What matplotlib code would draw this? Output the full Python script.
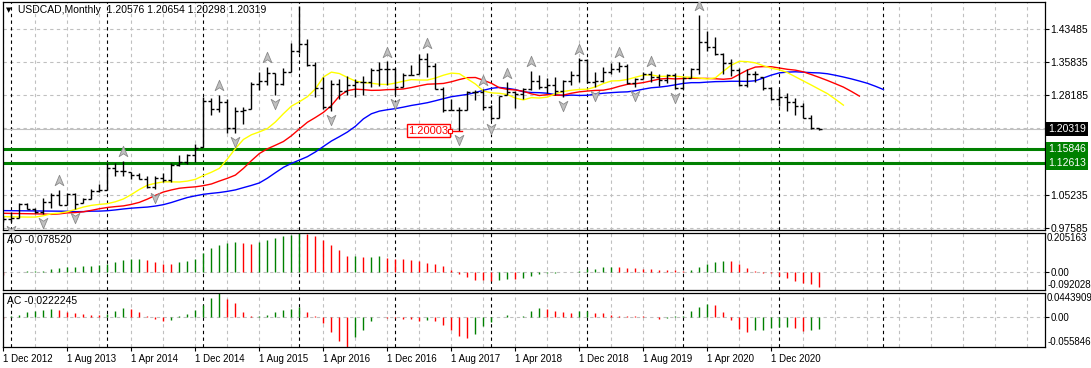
import numpy as np
import matplotlib
matplotlib.use("Agg")
import matplotlib.pyplot as plt
from matplotlib.path import Path
from matplotlib.transforms import ScaledTranslation, blended_transform_factory

plt.rcParams['font.family'] = ['Liberation Sans', 'DejaVu Sans']
plt.rcParams['font.size'] = 7

# --- USDCAD monthly, bar 0 = Dec 2012 ... bar 102 = Jun 2021 ---
highs = [1.0020, 1.0131, 1.0339, 1.0339, 1.0208, 1.0439, 1.0570, 1.0632, 1.0570, 1.0570,
         1.0439, 1.0655, 1.0763, 1.1249, 1.1265, 1.1303, 1.1056, 1.1018, 1.0956, 1.0956,
         1.1018, 1.1249, 1.1441, 1.1464, 1.1696, 1.2791, 1.2752, 1.2830, 1.2729, 1.2544,
         1.2544, 1.3138, 1.3369, 1.3485, 1.3331, 1.3446, 1.4025, 1.4890, 1.4117, 1.3600,
         1.3253, 1.3176, 1.3191, 1.3268, 1.3191, 1.3268, 1.3446, 1.3600, 1.3610, 1.3446,
         1.3331, 1.3523, 1.3778, 1.3809, 1.3562, 1.3007, 1.2729, 1.2544, 1.2930, 1.2945,
         1.2960, 1.2598, 1.2806, 1.3125, 1.2910, 1.3000, 1.3385, 1.3290, 1.3230, 1.3238,
         1.3175, 1.3393, 1.3677, 1.3665, 1.3369, 1.3469, 1.3562, 1.3600, 1.3546, 1.3215,
         1.3369, 1.3392, 1.3315, 1.3315, 1.3331, 1.3253, 1.3446, 1.4680, 1.4318, 1.4163,
         1.3809, 1.3654, 1.3446, 1.3423, 1.3392, 1.3238, 1.3007, 1.2960, 1.2883, 1.2752,
         1.2652, 1.2367, 1.20654]
lows = [0.9900, 0.9880, 0.9977, 1.0185, 1.0100, 1.0080, 1.0208, 1.0285, 1.0290, 1.0200,
        1.0323, 1.0416, 1.0594, 1.0632, 1.0956, 1.0956, 1.0879, 1.0879, 1.0680, 1.0650,
        1.0825, 1.0825, 1.1186, 1.1233, 1.1288, 1.1634, 1.2367, 1.2444, 1.1958, 1.1943,
        1.2159, 1.2498, 1.2945, 1.3061, 1.2830, 1.3061, 1.3369, 1.3793, 1.3500, 1.2791,
        1.2500, 1.2460, 1.2729, 1.2830, 1.2775, 1.2830, 1.3022, 1.3038, 1.3061, 1.2830,
        1.3007, 1.3292, 1.3315, 1.3253, 1.2960, 1.2444, 1.2482, 1.2000, 1.2482, 1.2714,
        1.2482, 1.2250, 1.2300, 1.2830, 1.2530, 1.2730, 1.2940, 1.2960, 1.2870, 1.2828,
        1.2789, 1.3060, 1.3138, 1.3115, 1.3007, 1.3138, 1.3315, 1.3369, 1.3084, 1.3022,
        1.3191, 1.3138, 1.3038, 1.3115, 1.2960, 1.2970, 1.3215, 1.3315, 1.3855, 1.3754,
        1.3315, 1.3269, 1.3038, 1.3007, 1.3138, 1.2945, 1.2714, 1.2574, 1.2466, 1.2367,
        1.2289, 1.2050, 1.20298]
closes = [0.9950, 0.9975, 1.0300, 1.0190, 1.0110, 1.0360, 1.0520, 1.0290, 1.0530, 1.0310,
          1.0430, 1.0610, 1.0630, 1.1130, 1.1080, 1.1060, 1.0970, 1.0890, 1.0690, 1.0900,
          1.0870, 1.1200, 1.1270, 1.1430, 1.1600, 1.2700, 1.2500, 1.2660, 1.2070, 1.2450,
          1.2490, 1.3080, 1.3150, 1.3330, 1.3080, 1.3360, 1.3840, 1.4010, 1.3530, 1.2990,
          1.2550, 1.3090, 1.2920, 1.3060, 1.3130, 1.3120, 1.3410, 1.3430, 1.3430, 1.3020,
          1.3280, 1.3300, 1.3650, 1.3500, 1.2970, 1.2470, 1.2490, 1.2480, 1.2890, 1.2900,
          1.2560, 1.2300, 1.2800, 1.2890, 1.2840, 1.2960, 1.3150, 1.3010, 1.3050, 1.2910,
          1.3150, 1.3280, 1.3640, 1.3140, 1.3160, 1.3350, 1.3430, 1.3510, 1.3100, 1.3190,
          1.3310, 1.3240, 1.3170, 1.3290, 1.2990, 1.3230, 1.3420, 1.4060, 1.3930, 1.3780,
          1.3570, 1.3400, 1.3050, 1.3310, 1.3320, 1.3000, 1.2730, 1.2790, 1.2670, 1.2570,
          1.2290, 1.20576, 1.20319]
first_open = 0.9960

# fractal bars
up_fractals = [7, 15, 27, 33, 37, 48, 53, 60, 63, 66, 72, 77, 81, 87]
down_fractals = [1, 5, 9, 19, 29, 34, 41, 49, 57, 61, 70, 74, 79, 84]

# alligator start values at the left edge (jaw, teeth, lips)
alligator_seed = [1.0153, 1.0091, 1.0014]

ao_values = [-0.012, 0.002, 0.004, 0.005, 0.006, 0.008, 0.017, 0.022, 0.029, 0.030,
             0.034, 0.035, 0.039, 0.046, 0.056, 0.063, 0.068, 0.069, 0.063, 0.056,
             0.046, 0.045, 0.056, 0.060, 0.068, 0.100, 0.128, 0.145, 0.152, 0.158,
             0.155, 0.150, 0.158, 0.170, 0.180, 0.188, 0.196, 0.2051, 0.200, 0.190,
             0.170, 0.145, 0.115, 0.085, 0.086, 0.080, 0.082, 0.084, 0.073, 0.068,
             0.067, 0.063, 0.060, 0.051, 0.046, 0.034, 0.012, -0.009, -0.026, -0.038,
             -0.039, -0.043, -0.038, -0.034, -0.035, -0.031, -0.017, -0.009, -0.003, -0.001,
             0.0005, 0.003, 0.009, 0.017, 0.020, 0.026, 0.029, 0.026, 0.022, 0.021,
             0.020, 0.017, 0.012, 0.011, 0.010, 0.008, 0.012, 0.026, 0.043, 0.056,
             0.060, 0.059, 0.043, 0.022, 0.005, -0.001, -0.005, -0.017, -0.029, -0.043,
             -0.055, -0.063, -0.0785]
ac_values = [-0.004, 0.001, 0.004, 0.009, 0.011, 0.012, 0.014, 0.012, 0.009, 0.007,
             0.006, 0.004, 0.003, 0.005, 0.011, 0.016, 0.015, 0.009, 0.002, -0.004,
             -0.008, -0.006, 0.001, 0.006, 0.012, 0.023, 0.036, 0.0443, 0.034, 0.026,
             0.009, 0.001, 0.0015, 0.004, 0.009, 0.013, 0.015, 0.019, 0.009, 0.002,
             -0.012, -0.028, -0.045, -0.0558, -0.038, -0.024, -0.008, -0.001, -0.0015, -0.002,
             -0.003, -0.004, -0.008, -0.006, -0.008, -0.015, -0.025, -0.036, -0.040, -0.032,
             -0.017, -0.009, -0.0005, 0.004, 0.0005, 0.002, 0.011, 0.017, 0.014, 0.011,
             0.009, 0.007, 0.0105, 0.011, 0.007, 0.0068, 0.003, 0.002, 0.0015, 0.001,
             0.0008, -0.0005, -0.004, -0.002, 0.001, 0.0015, 0.011, 0.019, 0.024, 0.022,
             0.009, -0.006, -0.022, -0.028, -0.025, -0.024, -0.020, -0.019, -0.018, -0.020,
             -0.026, -0.024, -0.0222]

price_grid = [1.43485, 1.35835, 1.28185, 1.20535, 1.12885, 1.05235, 0.97585]
price_labels = ['1.43485', '1.35835', '1.28185', '', '', '1.05235', '0.97585']
green_levels = [1.15846, 1.12613]
bid_price = 1.20319
low_mark = 1.20003

date_ticks = [0, 8, 16, 24, 32, 40, 48, 56, 64, 72, 80, 88, 96]
date_labels = ['1 Dec 2012', '1 Aug 2013', '1 Apr 2014', '1 Dec 2014', '1 Aug 2015',
               '1 Apr 2016', '1 Dec 2016', '1 Aug 2017', '1 Apr 2018', '1 Dec 2018',
               '1 Aug 2019', '1 Apr 2020', '1 Dec 2020']
year_seps = [1, 13, 25, 37, 49, 61, 73, 85, 97, 110]

# --- derived series ---
highs = np.array(highs)
lows = np.array(lows)
closes = np.array(closes)
idx = np.arange(len(closes))
opens = np.clip(np.r_[first_open, closes[:-1]], lows, highs)
median = (highs + lows) / 2


def smma(values, n, seed):
    out = []
    prev = seed
    for v in values:
        prev = (prev * (n - 1) + v) / n
        out.append(prev)
    return np.array(out)


W, H = 1091, 368
fig = plt.figure(figsize=(W / 100, H / 100), dpi=100)


def box(l, t, r, b):
    return [l / W, 1 - b / H, (r - l) / W, (b - t) / H]


ax = fig.add_axes(box(3, 2, 1045, 230))
ax_ao = fig.add_axes(box(3, 233, 1045, 290), sharex=ax)
ax_ac = fig.add_axes(box(3, 293, 1045, 347), sharex=ax)

grid_kw = dict(color='#c0c0c0', lw=0.8, ls=(0, (3, 3)), zorder=0)
sep_kw = dict(color='black', lw=0.8, ls=(0, (3, 3)), zorder=0.5)

for a in (ax, ax_ao, ax_ac):
    for i in range(0, 131, 4):
        a.axvline(i, **grid_kw)
    for i in year_seps:
        a.axvline(i, **sep_kw)
    for s in a.spines.values():
        s.set_color('black')
        s.set_linewidth(0.9)
    a.yaxis.tick_right()
    a.tick_params(axis='y', length=3, pad=1, colors='black', labelsize=7)
    a.tick_params(axis='x', length=0, labelbottom=False)

ax.set_xlim(-0.05, 130.2)

# --- main price panel ---
for p in price_grid:
    ax.axhline(p, **grid_kw)
ax.axhline(bid_price, color='#c0c0c0', lw=0.8, zorder=0.6)
for p in green_levels:
    ax.axhline(p, color='#008000', lw=2.2, zorder=1)

# alligator: jaw (blue), teeth (red), lips (yellow)
for period, shift, seed, col in [(13, 8, alligator_seed[0], '#0000ff'),
                                 (8, 5, alligator_seed[1], '#ff0000'),
                                 (5, 3, alligator_seed[2], '#ffff00')]:
    line = smma(median, period, seed)
    ax.plot(np.r_[0, idx + shift], np.r_[seed, line], color=col, lw=1.0, zorder=2)

ax.vlines(idx, lows, highs, color='black', lw=1.0, zorder=3)
ax.hlines(opens, idx - 0.38, idx, color='black', lw=1.0, zorder=3)
ax.hlines(closes, idx, idx + 0.38, color='black', lw=1.0, zorder=3)

arrow_up = Path([(0, 0.5), (0.42, -0.5), (0, -0.22), (-0.42, -0.5), (0, 0.5)],
                [Path.MOVETO, Path.LINETO, Path.LINETO, Path.LINETO, Path.CLOSEPOLY])
arrow_dn = Path([(0, -0.5), (0.42, 0.5), (0, 0.22), (-0.42, 0.5), (0, -0.5)],
                [Path.MOVETO, Path.LINETO, Path.LINETO, Path.LINETO, Path.CLOSEPOLY])
up_tr = ax.transData + ScaledTranslation(0, 0.095, fig.dpi_scale_trans)
dn_tr = ax.transData + ScaledTranslation(0, -0.09, fig.dpi_scale_trans)
ax.plot(up_fractals, highs[up_fractals], ls='none', marker=arrow_up, ms=7.5,
        mfc='#c0c0c0', mec='#8a8a8a', mew=0.6, transform=up_tr, zorder=4)
ax.plot(down_fractals, lows[down_fractals], ls='none', marker=arrow_dn, ms=7.5,
        mfc='#c0c0c0', mec='#8a8a8a', mew=0.6, transform=dn_tr, zorder=4)

ax.set_ylim(0.97043, 1.49802)
ax.set_yticks(price_grid)
ax.set_yticklabels(price_labels)
ax.tick_params(axis='y', labelsize=7.5)

# low price label
ax.text(53.1, low_mark, '1.20003', color='red', ha='center', va='center', fontsize=8,
        bbox=dict(facecolor='white', edgecolor='red', lw=1, pad=1.0), zorder=5)
ax.plot([55.75, 57.3], [low_mark, low_mark], color='red', lw=1, zorder=5)
ax.plot([55.8], [low_mark], marker='s', ms=2.5, mfc='white', mec='red', mew=0.8, zorder=5)

tr = blended_transform_factory(fig.transFigure, ax.transData)
ax.text(1048 / W, bid_price, '1.20319', color='white', va='center', ha='left', transform=tr,
        fontsize=7.5, bbox=dict(facecolor='black', edgecolor='none', pad=1.4), clip_on=False)
for p in green_levels:
    ax.text(1048 / W, p, f'{p:.5f}', color='white', va='center', ha='left', transform=tr,
            fontsize=7.5, bbox=dict(facecolor='#008000', edgecolor='none', pad=1.4),
            clip_on=False)

# --- AO panel ---
ao = np.array(ao_values)
ao_col = ['#ff0000' if i > 0 and ao[i] <= ao[i - 1] else '#008000' for i in idx]
ao_col[0] = '#ff0000'
ax_ao.axhline(0, **grid_kw)
ax_ao.vlines(idx, 0, ao, colors=ao_col, lw=1.0, zorder=2)
ax_ao.set_ylim(-0.092028, 0.205163)
ax_ao.set_yticks([0])
ax_ao.set_yticklabels(['0.00'])
tr_ao = blended_transform_factory(ax_ao.transAxes, ax_ao.transData)
ax_ao.text(1.002, 0.205163, '0.205163', va='top', ha='left', transform=tr_ao)
ax_ao.text(1.002, -0.092028, '-0.092028', va='bottom', ha='left', transform=tr_ao)
ax_ao.text(0.004, 0.87, 'AO -0.078520', transform=ax_ao.transAxes, va='center',
           fontsize=7.5)

# --- AC panel ---
ac = np.array(ac_values)
ac_col = ['#ff0000' if i > 0 and ac[i] <= ac[i - 1] else '#008000' for i in idx]
ac_col[0] = '#ff0000'
ax_ac.axhline(0, **grid_kw)
ax_ac.vlines(idx, 0, ac, colors=ac_col, lw=1.0, zorder=2)
ax_ac.set_ylim(-0.055846, 0.0443909)
ax_ac.set_yticks([0])
ax_ac.set_yticklabels(['0.00'])
tr_ac = blended_transform_factory(ax_ac.transAxes, ax_ac.transData)
ax_ac.text(1.002, 0.0443909, '0.0443909', va='top', ha='left', transform=tr_ac)
ax_ac.text(1.002, -0.055846, '-0.055846', va='bottom', ha='left', transform=tr_ac)
ax_ac.text(0.004, 0.86, 'AC -0.0222245', transform=ax_ac.transAxes, va='center',
           fontsize=7.5)

ax_ac.set_xticks(date_ticks)
ax_ac.set_xticklabels(date_labels, ha='left')
ax_ac.tick_params(axis='x', length=3, direction='out', pad=2, labelbottom=True, labelsize=7)
ax_ac.set_xlim(-0.05, 130.2)

# header
fig.text(6 / W, 1 - 10 / H, '\u25bc', fontsize=5, va='center', ha='left',
         family=['DejaVu Sans'])
fig.text(18 / W, 1 - 10 / H, 'USDCAD,Monthly  1.20576 1.20654 1.20298 1.20319',
         fontsize=7.5, va='center', ha='left')

fig.savefig('out.png', dpi=100, facecolor='white')
